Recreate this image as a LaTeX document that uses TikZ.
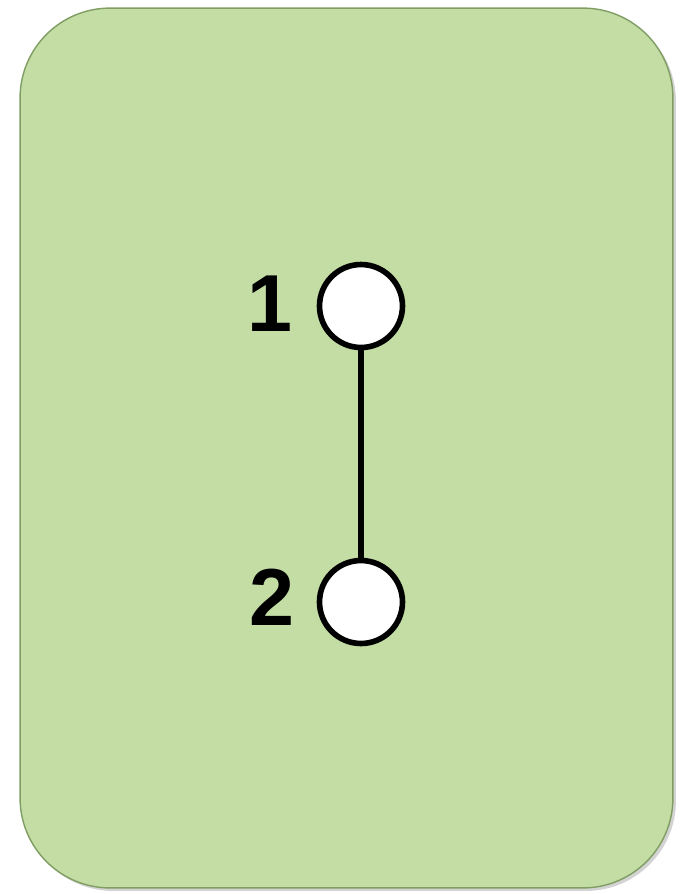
\documentclass[tikz,border=0pt]{standalone}
\usepackage{fontspec}
\setmainfont{Liberation Sans}
\usetikzlibrary{shadows, positioning}
\definecolor{cardgreen}{RGB}{195,221,165}
\definecolor{cardedge}{RGB}{128,158,100}

\begin{document}
\begin{tikzpicture}[
        x=0.02cm, y=-0.02cm,
        card/.style={rectangle, draw=cardedge, line width=0.8pt, fill=cardgreen, rounded corners=1.8cm, minimum width=13.06cm, minimum height=17.6cm, drop shadow={shadow xshift=0.06cm, shadow yshift=-0.06cm, opacity=0.35}},
        vertex/.style={circle, draw=black, line width=3.2pt, fill=white, minimum size=1.66cm, inner sep=0pt},
        numlabel/.style={font=\fontsize{46}{46}\selectfont\bfseries, inner sep=0pt},
        link/.style={line width=3.2pt, draw=black}
    ]
        \useasboundingbox (0,0) rectangle (686,894);
        \node[card] (frame) at (346.5,448) {};

        \node[vertex] (v1) at (361,306) {};
        \node[vertex] (v2) at (361,602) {};
        \node[numlabel] (l1) at (270,304) {1};
        \node[numlabel] (l2) at (272,597) {2};

        \draw[link] (v1) -- (v2);
    \end{tikzpicture}
\end{document}
